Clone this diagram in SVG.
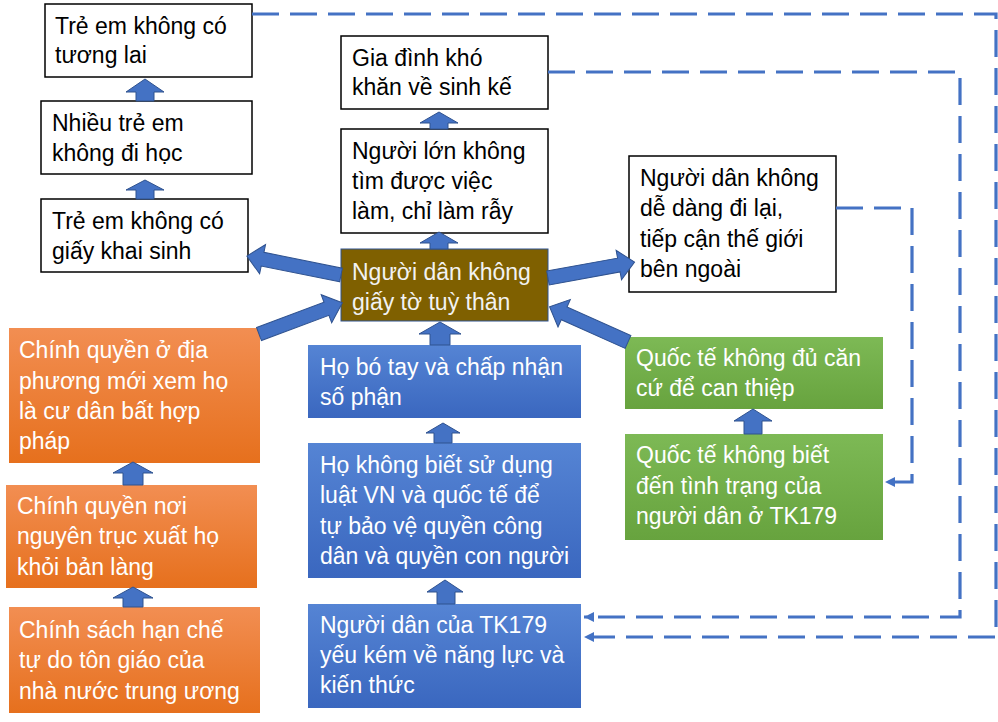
<svg xmlns="http://www.w3.org/2000/svg" width="998" height="722" viewBox="0 0 998 722">
<style>
.t{font-family:"Liberation Sans","Noto Sans","DejaVu Sans",sans-serif;font-size:23px;}
.wb{fill:#fff;stroke:#000;stroke-width:1.5;}
.dk{fill:#000;}
.lt{fill:#fff;}
.ba{fill:#4472C4;stroke:#2F528F;stroke-width:1;}
.dash{fill:none;stroke:#4472C4;stroke-width:3.2;stroke-dasharray:27 11;}
</style>
<defs>
<linearGradient id="og" x1="0" y1="0" x2="0" y2="1"><stop offset="0" stop-color="#F28E52"/><stop offset="1" stop-color="#E6701D"/></linearGradient>
<linearGradient id="bg" x1="0" y1="0" x2="0" y2="1"><stop offset="0" stop-color="#5584D4"/><stop offset="1" stop-color="#3A67BF"/></linearGradient>
<linearGradient id="gg" x1="0" y1="0" x2="0" y2="1"><stop offset="0" stop-color="#7DB955"/><stop offset="1" stop-color="#67A33E"/></linearGradient>
<marker id="ah" viewBox="0 0 10 10" refX="10" refY="5" markerWidth="11" markerHeight="10" markerUnits="userSpaceOnUse" orient="auto">
<path d="M0,0 L10,5 L0,10 Z" fill="#4472C4"/>
</marker>
</defs>

<g id="n1"><rect class="wb" x="45" y="4" width="207" height="73"/>
<text class="t dk" x="55" y="34">Trẻ em không có</text><text class="t dk" x="55" y="63">tương lai</text></g>
<g id="n2"><rect class="wb" x="41" y="101" width="211" height="73"/>
<text class="t dk" x="52" y="131">Nhiều trẻ em</text><text class="t dk" x="52" y="161">không đi học</text></g>
<g id="n3"><rect class="wb" x="41" y="199" width="207" height="73"/>
<text class="t dk" x="52" y="229">Trẻ em không có</text><text class="t dk" x="52" y="259">giấy khai sinh</text></g>
<g id="n4"><rect class="wb" x="341" y="36" width="207" height="73"/>
<text class="t dk" x="352" y="66">Gia đình khó</text><text class="t dk" x="352" y="95">khăn về sinh kế</text></g>
<g id="n5"><rect class="wb" x="341" y="129" width="207" height="104"/>
<text class="t dk" x="352" y="159">Người lớn không</text><text class="t dk" x="352" y="189">tìm được việc</text><text class="t dk" x="352" y="219">làm, chỉ làm rẫy</text></g>
<g id="n6"><rect x="341" y="249" width="207" height="72" fill="#7F6000" stroke="#2F528F" stroke-width="1"/>
<text class="t" fill="#F2F2F2" x="352" y="280">Người dân không</text><text class="t" fill="#F2F2F2" x="352" y="310">giấy tờ tuỳ thân</text></g>
<g id="n7"><rect class="wb" x="629" y="156" width="207" height="136"/>
<text class="t dk" x="640" y="186">Người dân không</text><text class="t dk" x="640" y="216">dễ dàng đi lại,</text><text class="t dk" x="640" y="247">tiếp cận thế giới</text><text class="t dk" x="640" y="277">bên ngoài</text></g>
<g id="n8"><rect x="625" y="337" width="258" height="72" fill="url(#gg)"/>
<text class="t lt" x="636" y="366">Quốc tế không đủ căn</text><text class="t lt" x="636" y="396">cứ để can thiệp</text></g>
<g id="n9"><rect x="625" y="434" width="258" height="106" fill="url(#gg)"/>
<text class="t lt" x="636" y="463">Quốc tế không biết</text><text class="t lt" x="636" y="494">đến tình trạng của</text><text class="t lt" x="636" y="524">người dân ở TK179</text></g>
<g id="n10"><rect x="9" y="328" width="251" height="135" fill="url(#og)"/>
<text class="t lt" x="19" y="358">Chính quyền ở địa</text><text class="t lt" x="19" y="389">phương mới xem họ</text><text class="t lt" x="19" y="419">là cư dân bất hợp</text><text class="t lt" x="19" y="449">pháp</text></g>
<g id="n11"><rect x="6" y="485" width="251" height="103" fill="url(#og)"/>
<text class="t lt" x="17" y="514">Chính quyền nơi</text><text class="t lt" x="17" y="544">nguyên trục xuất họ</text><text class="t lt" x="17" y="575">khỏi bản làng</text></g>
<g id="n12"><rect x="9" y="607" width="251" height="106" fill="url(#og)"/>
<text class="t lt" x="19" y="638">Chính sách hạn chế</text><text class="t lt" x="19" y="668">tự do tôn giáo của</text><text class="t lt" x="19" y="699">nhà nước trung ương</text></g>
<g id="n13"><rect x="308" y="345" width="273" height="73" fill="url(#bg)"/>
<text class="t lt" x="320" y="375">Họ bó tay và chấp nhận</text><text class="t lt" x="320" y="405">số phận</text></g>
<g id="n14"><rect x="308" y="443" width="273" height="135" fill="url(#bg)"/>
<text class="t lt" x="320" y="473">Họ không biết sử dụng</text><text class="t lt" x="320" y="503">luật VN và quốc tế để</text><text class="t lt" x="320" y="534">tự bảo vệ quyền công</text><text class="t lt" x="320" y="564">dân và quyền con người</text></g>
<g id="n15"><rect x="308" y="604" width="273" height="104" fill="url(#bg)"/>
<text class="t lt" x="320" y="633">Người dân của TK179</text><text class="t lt" x="320" y="663">yếu kém về năng lực và</text><text class="t lt" x="320" y="693">kiến thức</text></g>

<g id="connectors">
<polygon class="ba" points="136,101 136,92 126,92 145,79 164,92 154,92 154,101"/>
<polygon class="ba" points="136,199 136,190 126,190 145,180 164,190 154,190 154,199"/>
<polygon class="ba" points="430,129 430,123 420,123 439,112 458,123 448,123 448,129"/>
<polygon class="ba" points="430,249 430,243 420,243 439,232 458,243 448,243 448,249"/>
<polygon class="ba" points="430,345 430,334 419,334 440,322 461,334 450,334 450,345"/>
<polygon class="ba" points="434,443 434,433 426,433 443,423 460,433 452,433 452,443"/>
<polygon class="ba" points="437,604 437,592 427,592 445,580 463,592 455,592 455,604"/>
<polygon class="ba" points="123,485 123,473 113,473 133,462 153,473 143,473 143,485"/>
<polygon class="ba" points="123,607 123,598 113,598 133,587 153,598 143,598 143,607"/>
<polygon class="ba" points="744,434 744,421 734,421 753,409 772,421 762,421 762,434"/>
<polygon class="ba" transform="translate(341,275) rotate(191.4)" points="0,-7 80,-7 80,-15 96,0 80,15 80,7 0,7"/>
<polygon class="ba" transform="translate(259,334) rotate(-20.5)" points="0,-7 72,-7 72,-15 89,0 72,15 72,7 0,7"/>
<polygon class="ba" transform="translate(548,278) rotate(-10.4)" points="0,-7 72,-7 72,-15 88,0 72,15 72,7 0,7"/>
<polygon class="ba" transform="translate(628,342) rotate(204.2)" points="0,-7 70,-7 70,-15 86,0 70,15 70,7 0,7"/>
<polyline class="dash" points="252,14 996,14 996,637 584,637" marker-end="url(#ah)"/>
<polyline class="dash" points="548,72 960,72 960,617 584,617" marker-end="url(#ah)"/>
<polyline class="dash" points="836,208 912,208 912,482 885,482" marker-end="url(#ah)"/>
</g>
</svg>
